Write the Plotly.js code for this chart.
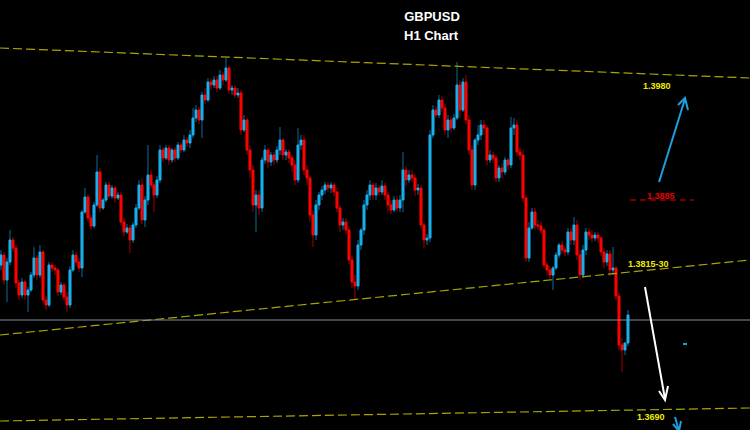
<!DOCTYPE html>
<html>
<head>
<meta charset="utf-8">
<script src="https://cdn.plot.ly/plotly-3.0.1.min.js"></script>
<style>html,body{margin:0;padding:0;background:#000;}#chart{width:750px;height:430px;}</style>
</head>
<body>
<div id="chart"></div>
<script>
// GBPUSD H1 candles
const firstOpen = 1.3820;
const closes = [
1.3830,1.3805,1.3823,1.3845,1.3837,1.3802,1.3790,1.3803,1.3790,1.3795,
1.3810,1.3827,1.3810,1.3833,1.3785,1.3780,1.3820,1.3817,1.3815,1.3793,
1.3800,1.3788,1.3780,1.3815,1.3830,1.3823,1.3817,1.3873,1.3888,1.3867,
1.3859,1.3880,1.3913,1.3877,1.3885,1.3900,1.3889,1.3897,1.3887,1.3890,
1.3863,1.3853,1.3857,1.3845,1.3860,1.3877,1.3900,1.3865,1.3885,1.3910,
1.3900,1.3890,1.3905,1.3935,1.3927,1.3937,1.3925,1.3935,1.3927,1.3940,
1.3935,1.3945,1.3942,1.3950,1.3967,1.3975,1.3965,1.3990,1.3985,1.4003,
1.4000,1.4005,1.3997,1.4010,1.4005,1.4017,1.3995,1.3997,1.3990,1.3992,
1.3955,1.3965,1.3935,1.3915,1.3880,1.3890,1.3877,1.3925,1.3935,1.3923,
1.3930,1.3925,1.3935,1.3945,1.3930,1.3933,1.3927,1.3920,1.3905,1.3940,
1.3945,1.3915,1.3907,1.3870,1.3850,1.3880,1.3890,1.3895,1.3900,1.3897,
1.3900,1.3893,1.3877,1.3860,1.3863,1.3855,1.3825,1.3803,1.3799,1.3840,
1.3855,1.3880,1.3890,1.3900,1.3890,1.3897,1.3893,1.3899,1.3890,1.3880,
1.3875,1.3885,1.3877,1.3885,1.3915,1.3905,1.3910,1.3907,1.3895,1.3897,
1.3860,1.3845,1.3847,1.3950,1.3975,1.3970,1.3985,1.3977,1.3955,1.3965,
1.3957,1.3967,1.4000,1.3975,1.4003,1.3965,1.3935,1.3900,1.3945,1.3950,
1.3960,1.3957,1.3925,1.3930,1.3927,1.3907,1.3917,1.3913,1.3925,1.3920,
1.3957,1.3960,1.3933,1.3930,1.3887,1.3827,1.3857,1.3873,1.3860,1.3859,
1.3855,1.3820,1.3815,1.3810,1.3817,1.3830,1.3840,1.3835,1.3833,1.3853,
1.3845,1.3860,1.3830,1.3810,1.3835,1.3853,1.3850,1.3847,1.3850,1.3847,
1.3833,1.3823,1.3831,1.3815,1.3817,1.3789,1.3740,1.3735,1.3742,1.3770
];
const highs = [
1.3835,1.3833,1.3827,1.3855,1.3848,1.3840,1.3805,1.3807,1.3805,1.3798,
1.3813,1.3838,1.3830,1.3840,1.3835,1.3789,1.3823,1.3823,1.3820,1.3817,
1.3803,1.3802,1.3793,1.3819,1.3835,1.3833,1.3827,1.3875,1.3897,1.3891,
1.3870,1.3883,1.3930,1.3917,1.3887,1.3903,1.3903,1.3900,1.3899,1.3893,
1.3893,1.3867,1.3861,1.3860,1.3863,1.3881,1.3905,1.3907,1.3889,1.3940,
1.3915,1.3903,1.3909,1.3940,1.3938,1.3940,1.3940,1.3937,1.3938,1.3943,
1.3943,1.3950,1.3948,1.3955,1.3977,1.3980,1.3978,1.3993,1.3997,1.4007,
1.4007,1.4009,1.4009,1.4015,1.4013,1.4027,1.4019,1.4000,1.4000,1.3997,
1.3995,1.3970,1.3967,1.3940,1.3920,1.3895,1.3895,1.3928,1.3940,1.3937,
1.3933,1.3933,1.3939,1.3958,1.3947,1.3936,1.3936,1.3930,1.3925,1.3957,
1.3950,1.3950,1.3920,1.3910,1.3875,1.3885,1.3893,1.3899,1.3903,1.3903,
1.3903,1.3902,1.3897,1.3880,1.3867,1.3867,1.3859,1.3829,1.3810,1.3845,
1.3857,1.3885,1.3895,1.3905,1.3903,1.3902,1.3900,1.3905,1.3902,1.3893,
1.3885,1.3889,1.3889,1.3890,1.3933,1.3919,1.3915,1.3915,1.3911,1.3901,
1.3900,1.3863,1.3851,1.3955,1.3980,1.3979,1.3990,1.3989,1.3981,1.3970,
1.3969,1.3971,1.4023,1.4005,1.4007,1.4010,1.3970,1.3940,1.3947,1.3960,
1.3965,1.3965,1.3960,1.3935,1.3933,1.3930,1.3920,1.3922,1.3928,1.3927,
1.3968,1.3967,1.3965,1.3937,1.3935,1.3890,1.3863,1.3877,1.3877,1.3865,
1.3863,1.3857,1.3823,1.3819,1.3819,1.3833,1.3842,1.3844,1.3839,1.3857,
1.3857,1.3868,1.3865,1.3835,1.3840,1.3857,1.3857,1.3855,1.3853,1.3853,
1.3849,1.3837,1.3835,1.3835,1.3838,1.3819,1.3792,1.3747,1.3740,1.3775
];
const lows = [
1.3815,1.3800,1.3783,1.3820,1.3833,1.3797,1.3785,1.3787,1.3785,1.3773,
1.3793,1.3807,1.3805,1.3807,1.3782,1.3775,1.3778,1.3813,1.3810,1.3789,
1.3790,1.3785,1.3773,1.3777,1.3813,1.3819,1.3813,1.3808,1.3871,1.3863,
1.3855,1.3857,1.3878,1.3873,1.3875,1.3883,1.3887,1.3886,1.3882,1.3885,
1.3859,1.3849,1.3851,1.3832,1.3842,1.3857,1.3875,1.3861,1.3858,1.3880,
1.3897,1.3873,1.3887,1.3902,1.3923,1.3925,1.3920,1.3922,1.3923,1.3925,
1.3932,1.3933,1.3938,1.3937,1.3947,1.3963,1.3961,1.3947,1.3981,1.3983,
1.3995,1.3997,1.3993,1.3995,1.4000,1.4003,1.3991,1.3990,1.3987,1.3987,
1.3950,1.3953,1.3930,1.3907,1.3873,1.3853,1.3870,1.3873,1.3921,1.3917,
1.3919,1.3920,1.3922,1.3930,1.3925,1.3925,1.3922,1.3913,1.3900,1.3902,
1.3935,1.3910,1.3900,1.3863,1.3838,1.3845,1.3875,1.3885,1.3891,1.3893,
1.3892,1.3889,1.3873,1.3853,1.3855,1.3851,1.3821,1.3797,1.3785,1.3795,
1.3835,1.3850,1.3875,1.3885,1.3885,1.3885,1.3889,1.3890,1.3885,1.3873,
1.3871,1.3873,1.3873,1.3873,1.3873,1.3899,1.3902,1.3903,1.3889,1.3890,
1.3857,1.3837,1.3840,1.3843,1.3947,1.3967,1.3967,1.3973,1.3950,1.3947,
1.3953,1.3955,1.3965,1.3967,1.3973,1.3961,1.3930,1.3895,1.3895,1.3940,
1.3945,1.3950,1.3920,1.3922,1.3922,1.3903,1.3903,1.3907,1.3910,1.3915,
1.3917,1.3950,1.3929,1.3925,1.3883,1.3823,1.3823,1.3855,1.3855,1.3855,
1.3851,1.3817,1.3810,1.3805,1.3795,1.3815,1.3827,1.3831,1.3829,1.3830,
1.3840,1.3840,1.3825,1.3805,1.3807,1.3830,1.3845,1.3843,1.3844,1.3842,
1.3829,1.3817,1.3819,1.3809,1.3810,1.3785,1.3735,1.3713,1.3730,1.3739
];
const levelLabels = ["1.3980", "1.3885", "1.3815-30", "1.3690"];
const chartTitle = ["GBPUSD", "H1 Chart"];

const opens = [firstOpen].concat(closes.slice(0, -1));
const idx = closes.map((_, i) => i);
const bodyHigh = closes.map((c, i) => Math.max(c, opens[i]));
const bodyLow = closes.map((c, i) => Math.min(c, opens[i]));

const BLUE = '#1ab2ee', BLUE_D = '#0e6c98', RED = '#ff0000', RED_D = '#a00000';
const YEL = '#a9a500';
const X = p => p / 750;
const Y = p => 1 - p / 430;

const wicks = {
  type: 'candlestick', x: idx, open: opens, high: highs, low: lows, close: closes,
  increasing: {line: {color: BLUE_D, width: 1}, fillcolor: BLUE_D},
  decreasing: {line: {color: RED_D, width: 1}, fillcolor: RED_D},
  whiskerwidth: 0, hoverinfo: 'skip'
};
const bodies = {
  type: 'candlestick', x: idx, open: opens, high: bodyHigh, low: bodyLow, close: closes,
  increasing: {line: {color: BLUE, width: 0.8}, fillcolor: BLUE},
  decreasing: {line: {color: RED, width: 0.8}, fillcolor: RED},
  whiskerwidth: 0, hoverinfo: 'skip'
};

function seg(x0, y0, x1, y1, color, width, dash) {
  return {type: 'line', xref: 'paper', yref: 'paper', x0: X(x0), y0: Y(y0), x1: X(x1), y1: Y(y1),
    line: {color: color, width: width, dash: dash || 'solid'}};
}
function head(pts, color, width) {
  const d = pts.map((p, i) => (i ? 'L' : 'M') + X(p[0]) + ',' + Y(p[1])).join(' ');
  return {type: 'path', xref: 'paper', yref: 'paper', path: d, line: {color: color, width: width}};
}

const shapes = [
  seg(0, 48, 750, 78, YEL, 1.2, '9px,4px'),
  seg(0, 335, 750, 260, YEL, 1.2, '9px,4px'),
  seg(0, 421, 750, 408, YEL, 1.2, '9px,4px'),
  {type: 'line', xref: 'paper', yref: 'y', x0: 0, x1: 1, y0: 1.3765, y1: 1.3765, line: {color: '#858c9c', width: 1}},
  {type: 'line', xref: 'paper', yref: 'y', x0: X(630), x1: X(694), y0: 1.3885, y1: 1.3885, line: {color: '#9a0000', width: 1.5, dash: '6px,4px'}},
  seg(659, 182, 685, 99, '#1e9fe2', 2),
  head([[678, 105], [685, 98], [688, 110]], '#1e9fe2', 2),
  seg(645, 287, 665, 399, '#ffffff', 2),
  head([[659, 391], [665, 400], [668, 386]], '#ffffff', 2),
  seg(683, 344, 687, 344, '#1e9fe2', 2),
  seg(675, 417, 679, 431, '#1e9fe2', 2),
  head([[673, 424], [679, 431], [681, 421]], '#1e9fe2', 2)
];

function lbl(text, x, y, color) {
  return {text: '<b>' + text + '</b>', xref: 'paper', yref: 'paper', x: X(x), y: Y(y),
    xanchor: 'center', yanchor: 'middle', showarrow: false,
    font: {family: 'Liberation Sans, Arial, sans-serif', size: 9, color: color}};
}
const annotations = [
  lbl(levelLabels[0], 657, 86, '#ecec00'),
  lbl(levelLabels[1], 661, 196, '#e60000'),
  lbl(levelLabels[2], 648, 264, '#ecec00'),
  lbl(levelLabels[3], 651, 417, '#ecec00'),
  {text: '<b>' + chartTitle[1] + '</b>', xref: 'paper', yref: 'paper', x: X(432), y: Y(36),
    xanchor: 'center', yanchor: 'middle', showarrow: false,
    font: {family: 'Liberation Sans, Arial, sans-serif', size: 13, color: '#ffffff'}}
];

const layout = {
  width: 750, height: 430,
  paper_bgcolor: '#000000', plot_bgcolor: '#000000',
  margin: {l: 0, r: 0, t: 0, b: 0},
  showlegend: false, hovermode: false,
  boxgap: 0.1,
  title: {text: '<b>' + chartTitle[0] + '</b>', x: X(432), xanchor: 'center', xref: 'paper',
    y: Y(16.5), yref: 'container', yanchor: 'middle',
    font: {family: 'Liberation Sans, Arial, sans-serif', size: 13, color: '#ffffff'}},
  xaxis: {range: [-0.33, 249.67], visible: false, showgrid: false, zeroline: false, rangeslider: {visible: false}, fixedrange: true},
  yaxis: {range: [1.3655, 1.4085], visible: false, showgrid: false, zeroline: false, fixedrange: true},
  shapes: shapes, annotations: annotations
};

Plotly.newPlot('chart', [wicks, bodies], layout, {displayModeBar: false, staticPlot: true});
</script>
</body>
</html>
